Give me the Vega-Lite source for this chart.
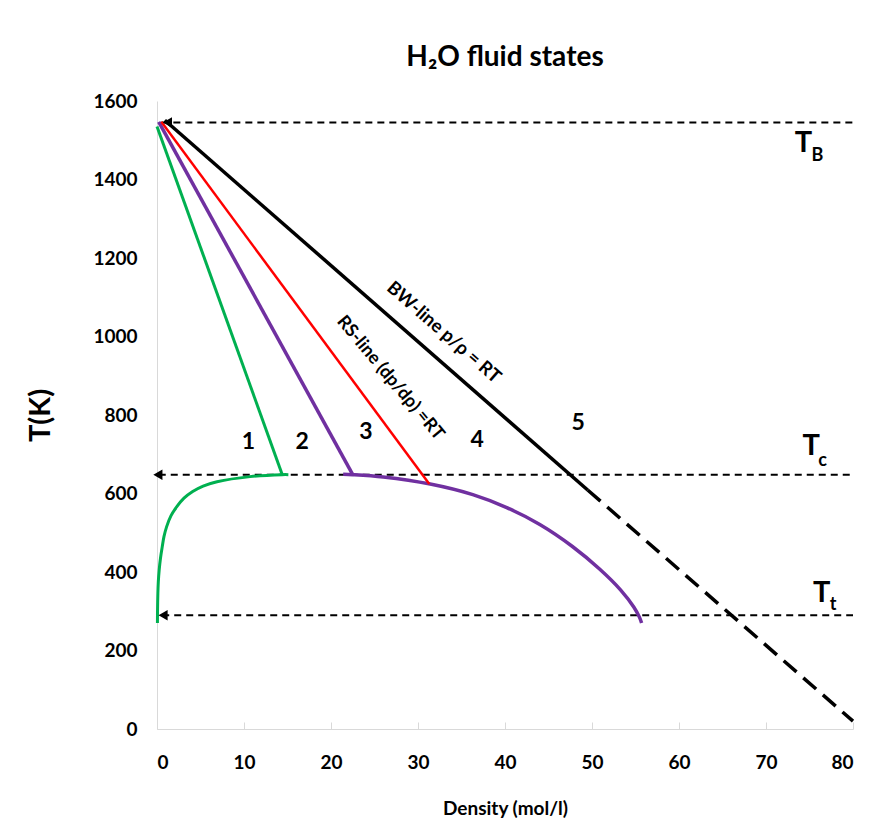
{
  "$schema": "https://vega.github.io/schema/vega-lite/v6.json",
  "width": 696,
  "height": 628,
  "autosize": "none",
  "padding": {"left": 157, "top": 101, "right": 24, "bottom": 107},
  "background": "white",
  "config": {"view": {"stroke": null}, "font": "Lato"},
  "title": {"text": "H₂O fluid states", "font": "Lato", "fontSize": 28, "fontWeight": "bold", "color": "black", "anchor": "middle", "offset": 20},
  "datasets": {
    "lines": [
      {"series": "TB", "i": 0, "x": 0.5, "T": 1545},
      {"series": "TB", "i": 1, "x": 80, "T": 1545},
      {"series": "Tc", "i": 0, "x": 0.2, "T": 648},
      {"series": "Tc", "i": 1, "x": 80, "T": 648},
      {"series": "Tt", "i": 0, "x": 0.6, "T": 290},
      {"series": "Tt", "i": 1, "x": 80, "T": 290},
      {"series": "greenDiag", "i": 0, "x": 0, "T": 1535},
      {"series": "greenDiag", "i": 1, "x": 14.4, "T": 648},
      {"series": "greenCurve", "i": 0, "x": 15.1, "T": 648},
      {"series": "greenCurve", "i": 1, "x": 14.4, "T": 648},
      {"series": "greenCurve", "i": 2, "x": 10.7, "T": 643},
      {"series": "greenCurve", "i": 3, "x": 6.9, "T": 630},
      {"series": "greenCurve", "i": 4, "x": 5.3, "T": 619},
      {"series": "greenCurve", "i": 5, "x": 4.1, "T": 605},
      {"series": "greenCurve", "i": 6, "x": 3.1, "T": 588},
      {"series": "greenCurve", "i": 7, "x": 2.3, "T": 567},
      {"series": "greenCurve", "i": 8, "x": 1.6, "T": 543},
      {"series": "greenCurve", "i": 9, "x": 1.1, "T": 515},
      {"series": "greenCurve", "i": 10, "x": 0.8, "T": 490},
      {"series": "greenCurve", "i": 11, "x": 0.6, "T": 464},
      {"series": "greenCurve", "i": 12, "x": 0.4, "T": 435},
      {"series": "greenCurve", "i": 13, "x": 0.25, "T": 405},
      {"series": "greenCurve", "i": 14, "x": 0.15, "T": 375},
      {"series": "greenCurve", "i": 15, "x": 0.1, "T": 346},
      {"series": "greenCurve", "i": 16, "x": 0.06, "T": 300},
      {"series": "greenCurve", "i": 17, "x": 0.05, "T": 270},
      {"series": "purpleDiag", "i": 0, "x": 0.2, "T": 1547},
      {"series": "purpleDiag", "i": 1, "x": 22.5, "T": 648},
      {"series": "purpleCurve", "i": 0, "x": 21.4, "T": 649},
      {"series": "purpleCurve", "i": 1, "x": 22.5, "T": 648},
      {"series": "purpleCurve", "i": 2, "x": 26, "T": 642},
      {"series": "purpleCurve", "i": 3, "x": 31.4, "T": 624},
      {"series": "purpleCurve", "i": 4, "x": 36.3, "T": 597},
      {"series": "purpleCurve", "i": 5, "x": 40.2, "T": 564},
      {"series": "purpleCurve", "i": 6, "x": 44.0, "T": 521},
      {"series": "purpleCurve", "i": 7, "x": 47.75, "T": 465},
      {"series": "purpleCurve", "i": 8, "x": 50.9, "T": 407},
      {"series": "purpleCurve", "i": 9, "x": 53.3, "T": 354},
      {"series": "purpleCurve", "i": 10, "x": 54.8, "T": 311},
      {"series": "purpleCurve", "i": 11, "x": 55.45, "T": 285},
      {"series": "purpleCurve", "i": 12, "x": 55.7, "T": 270},
      {"series": "red", "i": 0, "x": 0.5, "T": 1547},
      {"series": "red", "i": 1, "x": 31.3, "T": 624},
      {"series": "blackSolid", "i": 0, "x": 0.9, "T": 1551},
      {"series": "blackSolid", "i": 1, "x": 49.5, "T": 609},
      {"series": "blackDash", "i": 0, "x": 49.5, "T": 609},
      {"series": "blackDash", "i": 1, "x": 80, "T": 20}
    ],
    "arrows": [
      {"x": 1.2, "T": 1545},
      {"x": 0.1, "T": 648},
      {"x": 0.7, "T": 290}
    ],
    "nums": [
      {"label": "1", "x": 10.5, "T": 731},
      {"label": "2", "x": 16.7, "T": 731},
      {"label": "3", "x": 24.0, "T": 757},
      {"label": "4", "x": 36.8, "T": 736},
      {"label": "5", "x": 48.4, "T": 780}
    ],
    "notes": [
      {"label": "BW-line p/ρ = RT", "kind": "bw", "x": 33.0, "T": 1011},
      {"label": "RS-line (dp/dρ) =RT", "kind": "rs", "x": 26.8, "T": 894}
    ],
    "temps": [
      {"label": "T", "kind": "main", "x": 74.3, "T": 1492},
      {"label": "B", "kind": "sub", "x": 75.9, "T": 1460},
      {"label": "T", "kind": "main", "x": 75.2, "T": 722},
      {"label": "c", "kind": "sub", "x": 76.5, "T": 684},
      {"label": "T", "kind": "main", "x": 76.4, "T": 347},
      {"label": "t", "kind": "sub", "x": 77.7, "T": 315}
    ]
  },
  "layer": [
    {
      "data": {"name": "lines"},
      "transform": [{"filter": "datum.series == 'TB' || datum.series == 'Tc' || datum.series == 'Tt'"}],
      "mark": {"type": "line", "color": "black", "strokeWidth": 2, "strokeDash": [7, 5]},
      "encoding": {
        "x": {"field": "x", "type": "quantitative", "scale": {"domain": [0, 80]},
          "axis": {"values": [0, 10, 20, 30, 40, 50, 60, 70, 80], "title": "Density (mol/l)", "grid": false,
            "domainColor": "#d9d9d9", "tickColor": "#d9d9d9", "tickSize": -7, "labelPadding": 31,
            "labelFont": "Lato", "labelFontSize": 19, "labelFontWeight": "bold", "labelColor": "black",
            "titleFont": "Lato", "titleFontSize": 19, "titleFontWeight": "bold", "titleColor": "black",
            "titleY": 79, "titleBaseline": "middle"}},
        "y": {"field": "T", "type": "quantitative", "scale": {"domain": [0, 1600]},
          "axis": {"values": [0, 200, 400, 600, 800, 1000, 1200, 1400, 1600], "format": "d", "title": "T(K)", "grid": false,
            "domainColor": "#d9d9d9", "ticks": false, "tickSize": 0, "labelPadding": 20,
            "labelFont": "Lato", "labelFontSize": 19, "labelFontWeight": "bold", "labelColor": "black",
            "titleFont": "Lato", "titleFontSize": 29, "titleFontWeight": "bold", "titleColor": "black",
            "titleX": -117, "titleY": 314, "titleBaseline": "middle", "titleAlign": "center"}},
        "detail": {"field": "series"},
        "order": {"field": "i"}
      }
    },
    {
      "data": {"name": "lines"},
      "transform": [{"filter": "datum.series == 'greenDiag' || datum.series == 'greenCurve'"}],
      "mark": {"type": "line", "color": "#00B050", "strokeWidth": 3, "interpolate": "catmull-rom"},
      "encoding": {"x": {"field": "x", "type": "quantitative"}, "y": {"field": "T", "type": "quantitative"}, "detail": {"field": "series"}, "order": {"field": "i"}}
    },
    {
      "data": {"name": "lines"},
      "transform": [{"filter": "datum.series == 'purpleDiag' || datum.series == 'purpleCurve'"}],
      "mark": {"type": "line", "color": "#7030A0", "strokeWidth": 3.5, "interpolate": "catmull-rom"},
      "encoding": {"x": {"field": "x", "type": "quantitative"}, "y": {"field": "T", "type": "quantitative"}, "detail": {"field": "series"}, "order": {"field": "i"}}
    },
    {
      "data": {"name": "lines"},
      "transform": [{"filter": "datum.series == 'red'"}],
      "mark": {"type": "line", "color": "#FF0000", "strokeWidth": 2.5},
      "encoding": {"x": {"field": "x", "type": "quantitative"}, "y": {"field": "T", "type": "quantitative"}, "order": {"field": "i"}}
    },
    {
      "data": {"name": "lines"},
      "transform": [{"filter": "datum.series == 'blackSolid'"}],
      "mark": {"type": "line", "color": "black", "strokeWidth": 3.5},
      "encoding": {"x": {"field": "x", "type": "quantitative"}, "y": {"field": "T", "type": "quantitative"}, "order": {"field": "i"}}
    },
    {
      "data": {"name": "lines"},
      "transform": [{"filter": "datum.series == 'blackDash'"}],
      "mark": {"type": "line", "color": "black", "strokeWidth": 3.5, "strokeDash": [17, 9]},
      "encoding": {"x": {"field": "x", "type": "quantitative"}, "y": {"field": "T", "type": "quantitative"}, "order": {"field": "i"}}
    },
    {
      "data": {"name": "arrows"},
      "mark": {"type": "point", "shape": "triangle-left", "filled": true, "color": "black", "size": 110, "opacity": 1},
      "encoding": {"x": {"field": "x", "type": "quantitative"}, "y": {"field": "T", "type": "quantitative"}}
    },
    {
      "data": {"name": "nums"},
      "mark": {"type": "text", "font": "Lato", "fontSize": 23, "fontWeight": "bold", "color": "black", "align": "center", "baseline": "middle"},
      "encoding": {"x": {"field": "x", "type": "quantitative"}, "y": {"field": "T", "type": "quantitative"}, "text": {"field": "label"}}
    },
    {
      "data": {"name": "notes"},
      "transform": [{"filter": "datum.kind == 'bw'"}],
      "mark": {"type": "text", "font": "Lato", "fontSize": 18.5, "fontWeight": "bold", "color": "black", "align": "center", "baseline": "middle", "angle": 41},
      "encoding": {"x": {"field": "x", "type": "quantitative"}, "y": {"field": "T", "type": "quantitative"}, "text": {"field": "label"}}
    },
    {
      "data": {"name": "notes"},
      "transform": [{"filter": "datum.kind == 'rs'"}],
      "mark": {"type": "text", "font": "Lato", "fontSize": 18, "fontWeight": "bold", "color": "black", "align": "center", "baseline": "middle", "angle": 50},
      "encoding": {"x": {"field": "x", "type": "quantitative"}, "y": {"field": "T", "type": "quantitative"}, "text": {"field": "label"}}
    },
    {
      "data": {"name": "temps"},
      "transform": [{"filter": "datum.kind == 'main'"}],
      "mark": {"type": "text", "font": "Lato", "fontSize": 29, "fontWeight": "bold", "color": "black", "align": "center", "baseline": "middle"},
      "encoding": {"x": {"field": "x", "type": "quantitative"}, "y": {"field": "T", "type": "quantitative"}, "text": {"field": "label"}}
    },
    {
      "data": {"name": "temps"},
      "transform": [{"filter": "datum.kind == 'sub'"}],
      "mark": {"type": "text", "font": "Lato", "fontSize": 18, "fontWeight": "bold", "color": "black", "align": "center", "baseline": "middle"},
      "encoding": {"x": {"field": "x", "type": "quantitative"}, "y": {"field": "T", "type": "quantitative"}, "text": {"field": "label"}}
    }
  ]
}
